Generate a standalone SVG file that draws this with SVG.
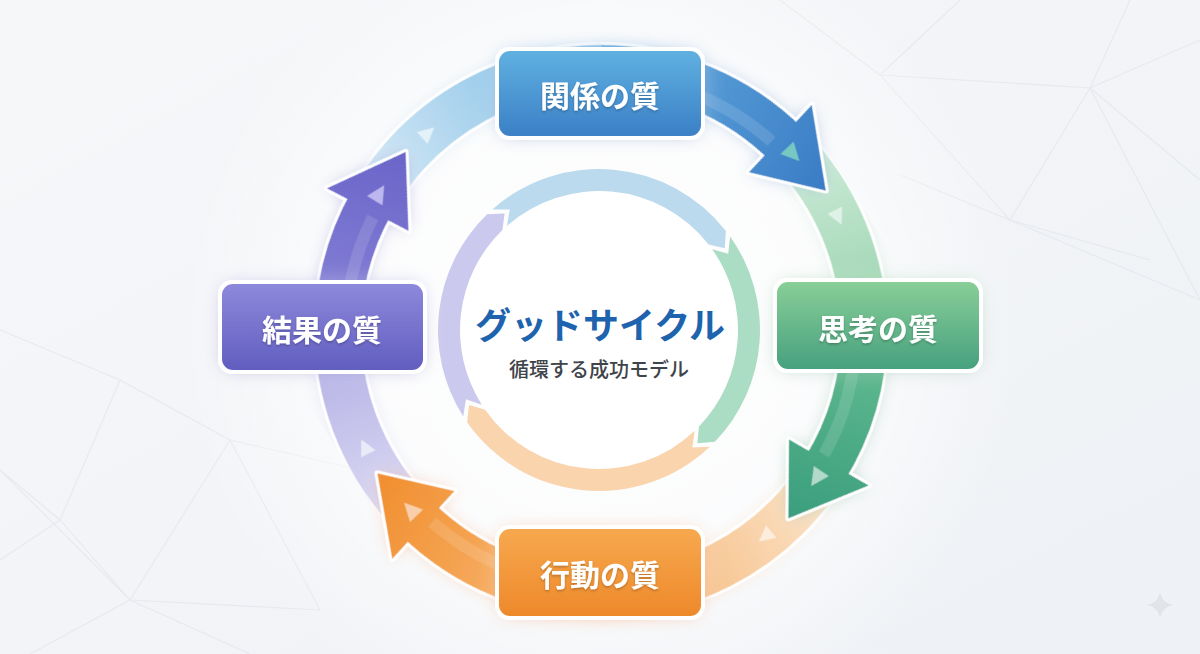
<svg xmlns="http://www.w3.org/2000/svg" width="1200" height="654" viewBox="0 0 1200 654">
<defs>
<linearGradient id="bg" x1="0" y1="0" x2="1" y2="1"><stop offset="0" stop-color="#f6f7f9"/><stop offset="1" stop-color="#eef1f5"/></linearGradient>
<radialGradient id="bgc" cx="600" cy="330" r="420" gradientUnits="userSpaceOnUse"><stop offset="0" stop-color="#ffffff"/><stop offset="0.6" stop-color="#ffffff" stop-opacity="0.7"/><stop offset="1" stop-color="#ffffff" stop-opacity="0"/></radialGradient>
<linearGradient id="nBlue" x1="0" y1="0" x2="0" y2="1"><stop offset="0" stop-color="#60b0e1"/><stop offset="1" stop-color="#3b80c6"/></linearGradient>
<linearGradient id="nGreen" x1="0" y1="0" x2="0" y2="1"><stop offset="0" stop-color="#88ce97"/><stop offset="1" stop-color="#47a17f"/></linearGradient>
<linearGradient id="nOrange" x1="0" y1="0" x2="0" y2="1"><stop offset="0" stop-color="#f7a84e"/><stop offset="1" stop-color="#ee892b"/></linearGradient>
<linearGradient id="nPurple" x1="0" y1="0" x2="0" y2="1"><stop offset="0" stop-color="#8d89db"/><stop offset="1" stop-color="#615ec0"/></linearGradient>
<linearGradient id="dBlue" gradientUnits="userSpaceOnUse" x1="150" y1="-215" x2="263" y2="0"><stop offset="0" stop-color="#62a9dd"/><stop offset="1" stop-color="#3a7cc5"/></linearGradient>
<linearGradient id="dGreen" gradientUnits="userSpaceOnUse" x1="150" y1="-215" x2="263" y2="0"><stop offset="0" stop-color="#6cc293"/><stop offset="1" stop-color="#3a9e7e"/></linearGradient>
<linearGradient id="dOrange" gradientUnits="userSpaceOnUse" x1="150" y1="-215" x2="263" y2="0"><stop offset="0" stop-color="#f8bb78"/><stop offset="1" stop-color="#f18e2f"/></linearGradient>
<linearGradient id="dPurple" gradientUnits="userSpaceOnUse" x1="150" y1="-215" x2="263" y2="0"><stop offset="0" stop-color="#8f8bda"/><stop offset="1" stop-color="#6a65c9"/></linearGradient>
<linearGradient id="lGreen" gradientUnits="userSpaceOnUse" x1="259" y1="-46" x2="205" y2="170"><stop offset="0" stop-color="#cdebd8"/><stop offset="1" stop-color="#8ccda3"/></linearGradient>
<linearGradient id="lOrange" gradientUnits="userSpaceOnUse" x1="259" y1="-46" x2="205" y2="170"><stop offset="0" stop-color="#fbe3c8"/><stop offset="1" stop-color="#f5b676"/></linearGradient>
<linearGradient id="lPurple" gradientUnits="userSpaceOnUse" x1="259" y1="-46" x2="205" y2="170"><stop offset="0" stop-color="#dcdaf3"/><stop offset="1" stop-color="#a9a5e2"/></linearGradient>
<linearGradient id="lBlue" gradientUnits="userSpaceOnUse" x1="259" y1="-46" x2="205" y2="170"><stop offset="0" stop-color="#d3e8f5"/><stop offset="1" stop-color="#86c0e7"/></linearGradient>
<filter id="glow" x="-30%" y="-30%" width="160%" height="160%"><feGaussianBlur in="SourceGraphic" stdDeviation="8" result="b"/><feColorMatrix in="b" type="matrix" values="1 0 0 0 0 0 1 0 0 0 0 0 1 0 0 0 0 0 0.45 0" result="c"/><feMerge><feMergeNode in="c"/><feMergeNode in="SourceGraphic"/></feMerge></filter>
<filter id="nglow" x="-30%" y="-40%" width="160%" height="180%"><feGaussianBlur in="SourceGraphic" stdDeviation="9" result="b"/><feColorMatrix in="b" type="matrix" values="1 0 0 0 0 0 1 0 0 0 0 0 1 0 0 0 0 0 0.5 0" result="c"/><feMerge><feMergeNode in="c"/><feMergeNode in="SourceGraphic"/></feMerge></filter>
<filter id="tsh" x="-10%" y="-20%" width="120%" height="150%"><feDropShadow dx="0" dy="1.5" stdDeviation="1.2" flood-color="#000" flood-opacity="0.25"/></filter>
</defs>
<style>
.bgl{stroke:#dde1e7;stroke-width:1.1;fill:none;opacity:0.6}
.wsh{fill:none;stroke:#fff;stroke-width:52}
.wh{fill:#fff;stroke:#fff;stroke-width:6;stroke-linejoin:round}
.sh{fill:none;stroke-width:46}
.hl{fill:none;stroke:#fff;stroke-opacity:0.13;stroke-width:12}
.tri{stroke:none}
.lbl{font-family:"Noto Sans CJK JP","Noto Sans",sans-serif;font-weight:700;font-size:30px;fill:#fff;text-anchor:middle;dominant-baseline:central}
.nb{fill:#fff}
</style>
<rect width="1200" height="654" fill="url(#bg)"/>
<g id="bglines">
<path class="bgl" d="M880,75 L1090,88 L1200,40 M880,75 L960,0 M1090,88 L1130,0 M1090,88 L1010,220 L900,175 M1010,220 L1200,300 M1090,88 L1200,300 M880,75 L1010,220 M1010,220 L1150,260 M780,0 L880,75 M1090,88 L1200,180"/>
<path class="bgl" d="M0,330 L120,380 L230,440 L320,610 M120,380 L60,520 L130,600 L320,610 M0,470 L60,520 M130,600 L30,654 M130,600 L250,654 M230,440 L130,600 M0,470 L130,600 M0,560 L60,520 M230,440 L360,470"/>
</g>
<rect width="1200" height="654" fill="url(#bgc)"/>
<path d="M1160,592 Q1162,603 1173,605 Q1162,607 1160,618 Q1158,607 1147,605 Q1158,603 1160,592Z" fill="#e1e4e8"/>

<g id="inner-ring" transform="translate(599 330)">
<circle r="139" fill="#ffffff"/>
<path transform="rotate(-131.5)" fill="#bcdaee" d="M161,0 A161,161 0 0 1 -9.83,160.70 L-22.17,148.35 L-8.49,138.74 A139,139 0 0 0 139,0 L149.43,13.07 Z"/>
<path transform="rotate(-35.5)" fill="#abdcc4" d="M161,0 A161,161 0 0 1 29.34,158.30 L14.38,149.31 L25.33,136.67 A139,139 0 0 0 139,0 L149.43,13.07 Z"/>
<path transform="rotate(46.5)" fill="#f9d4ad" d="M161,0 A161,161 0 0 1 -23.80,159.23 L-35.02,145.86 L-20.55,137.47 A139,139 0 0 0 139,0 L149.43,13.07 Z"/>
<path transform="rotate(147.5)" fill="#ccc9ee" d="M161,0 A161,161 0 0 1 32.10,157.77 L16.98,149.04 L27.71,136.21 A139,139 0 0 0 139,0 L149.43,13.07 Z"/>
</g>

<g id="connectors">
<g id="band-green" filter="url(#glow)" transform="translate(601 331) rotate(-32)">
<path class="wsh" d="M259.0,-45.67 A263,263 0 0 1 215.44,150.85"/>
<path class="sh" stroke="url(#lGreen)" d="M259.0,-45.67 A263,263 0 0 1 215.44,150.85"/>
<polygon class="tri" transform="rotate(6) translate(263 0)" points="-8,-6 8,-6 0,10" fill="#e6f5ec" fill-opacity="0.85"/>
</g>
<g id="band-orange" filter="url(#glow)" transform="translate(601 331) rotate(45)">
<path class="wsh" d="M259.0,-45.67 A263,263 0 0 1 182.70,189.19"/>
<path class="sh" stroke="url(#lOrange)" d="M259.0,-45.67 A263,263 0 0 1 182.70,189.19"/>
<polygon class="tri" transform="rotate(6) translate(263 0)" points="-8,-6 8,-6 0,10" fill="#fdf0e2" fill-opacity="0.9"/>
</g>
<g id="band-purple" filter="url(#glow)" transform="translate(601 331) rotate(147.5)">
<path class="wsh" d="M259.0,-45.67 A263,263 0 0 1 218.04,147.07"/>
<path class="sh" stroke="url(#lPurple)" d="M259.0,-45.67 A263,263 0 0 1 218.04,147.07"/>
<polygon class="tri" transform="rotate(6) translate(263 0)" points="-8,-6 8,-6 0,10" fill="#eeedfa" fill-opacity="0.9"/>
</g>
<g id="band-blue" filter="url(#glow)" transform="translate(601 331) rotate(222.5)">
<path class="wsh" d="M259.0,-45.67 A263,263 0 0 1 175.98,195.45"/>
<path class="sh" stroke="url(#lBlue)" d="M259.0,-45.67 A263,263 0 0 1 175.98,195.45"/>
<polygon class="tri" transform="rotate(6) translate(263 0)" points="-8,-6 8,-6 0,10" fill="#e8f3fa" fill-opacity="0.9"/>
</g>

<g id="arrow-blue" filter="url(#glow)" transform="translate(601 331) rotate(-32)">
<path class="wsh" d="M139.37,-223.04 A263,263 0 0 1 256.26,-59.16"/>
<polygon class="wh" points="265,0 298.47,-79.98 209.61,-56.16"/>
<path class="sh" stroke="url(#dBlue)" d="M139.37,-223.04 A263,263 0 0 1 256.26,-59.16"/>
<path class="hl" d="M135.13,-216.25 A255,255 0 0 1 245.12,-70.29"/>
<polygon fill="url(#dBlue)" points="265,0 298.47,-79.98 209.61,-56.16"/>
<polygon class="tri" transform="rotate(-11) translate(261 0)" points="-9,-7 9,-7 0,11" fill="#74c9c2"/>
</g>
<g id="arrow-green" filter="url(#glow)" transform="translate(601 331) rotate(45)">
<path class="wsh" d="M185.97,-185.97 A263,263 0 0 1 256.26,-59.16"/>
<polygon class="wh" points="265,0 298.47,-79.98 209.61,-56.16"/>
<path class="sh" stroke="url(#dGreen)" d="M185.97,-185.97 A263,263 0 0 1 256.26,-59.16"/>
<path class="hl" d="M180.31,-180.31 A255,255 0 0 1 245.12,-70.29"/>
<polygon fill="url(#dGreen)" points="265,0 298.47,-79.98 209.61,-56.16"/>
<polygon class="tri" transform="rotate(-11) translate(261 0)" points="-9,-7 9,-7 0,11" fill="#b3d9cb"/>
</g>
<g id="arrow-orange" filter="url(#glow)" transform="translate(601 331) rotate(147.5)">
<path class="wsh" d="M139.37,-223.04 A263,263 0 0 1 256.26,-59.16"/>
<polygon class="wh" points="265,0 298.47,-79.98 209.61,-56.16"/>
<path class="sh" stroke="url(#dOrange)" d="M139.37,-223.04 A263,263 0 0 1 256.26,-59.16"/>
<path class="hl" d="M135.13,-216.25 A255,255 0 0 1 245.12,-70.29"/>
<polygon fill="url(#dOrange)" points="265,0 298.47,-79.98 209.61,-56.16"/>
<polygon class="tri" transform="rotate(-11) translate(261 0)" points="-9,-7 9,-7 0,11" fill="#f8cfaa"/>
</g>
<g id="arrow-purple" filter="url(#glow)" transform="translate(601 331) rotate(222.5)">
<path class="wsh" d="M185.97,-185.97 A263,263 0 0 1 256.26,-59.16"/>
<polygon class="wh" points="265,0 298.47,-79.98 209.61,-56.16"/>
<path class="sh" stroke="url(#dPurple)" d="M185.97,-185.97 A263,263 0 0 1 256.26,-59.16"/>
<path class="hl" d="M180.31,-180.31 A255,255 0 0 1 245.12,-70.29"/>
<polygon fill="url(#dPurple)" points="265,0 298.47,-79.98 209.61,-56.16"/>
<polygon class="tri" transform="rotate(-11) translate(261 0)" points="-9,-7 9,-7 0,11" fill="#bcb8ef"/>
</g>
</g>

<g id="node-kankei" filter="url(#nglow)">
<rect class="nb" x="495" y="47" width="210" height="93" rx="14"/>
<rect x="499" y="51" width="202" height="85" rx="11" fill="url(#nBlue)"/>
<text class="lbl" x="600" y="94" filter="url(#tsh)">関係の質</text>
</g>
<g id="node-shikou" filter="url(#nglow)">
<rect class="nb" x="773" y="278" width="210" height="95" rx="14"/>
<rect x="777" y="282" width="202" height="87" rx="11" fill="url(#nGreen)"/>
<text class="lbl" x="878" y="327" filter="url(#tsh)">思考の質</text>
</g>
<g id="node-koudou" filter="url(#nglow)">
<rect class="nb" x="495" y="525" width="210" height="95" rx="14"/>
<rect x="499" y="529" width="202" height="87" rx="11" fill="url(#nOrange)"/>
<text class="lbl" x="600" y="573" filter="url(#tsh)">行動の質</text>
</g>
<g id="node-kekka" filter="url(#nglow)">
<rect class="nb" x="218" y="280" width="209" height="94" rx="14"/>
<rect x="222" y="284" width="201" height="86" rx="11" fill="url(#nPurple)"/>
<text class="lbl" x="322" y="328" filter="url(#tsh)">結果の質</text>
</g>

<g id="center">
<text x="600" y="323" font-family="Noto Sans CJK JP, Noto Sans, sans-serif" font-weight="700" font-size="36" fill="#1e63ad" text-anchor="middle" dominant-baseline="central">グッドサイクル</text>
<text x="599" y="368" font-family="Noto Sans CJK JP, Noto Sans, sans-serif" font-weight="500" font-size="20" fill="#3f444b" text-anchor="middle" dominant-baseline="central">循環する成功モデル</text>
</g>
</svg>
